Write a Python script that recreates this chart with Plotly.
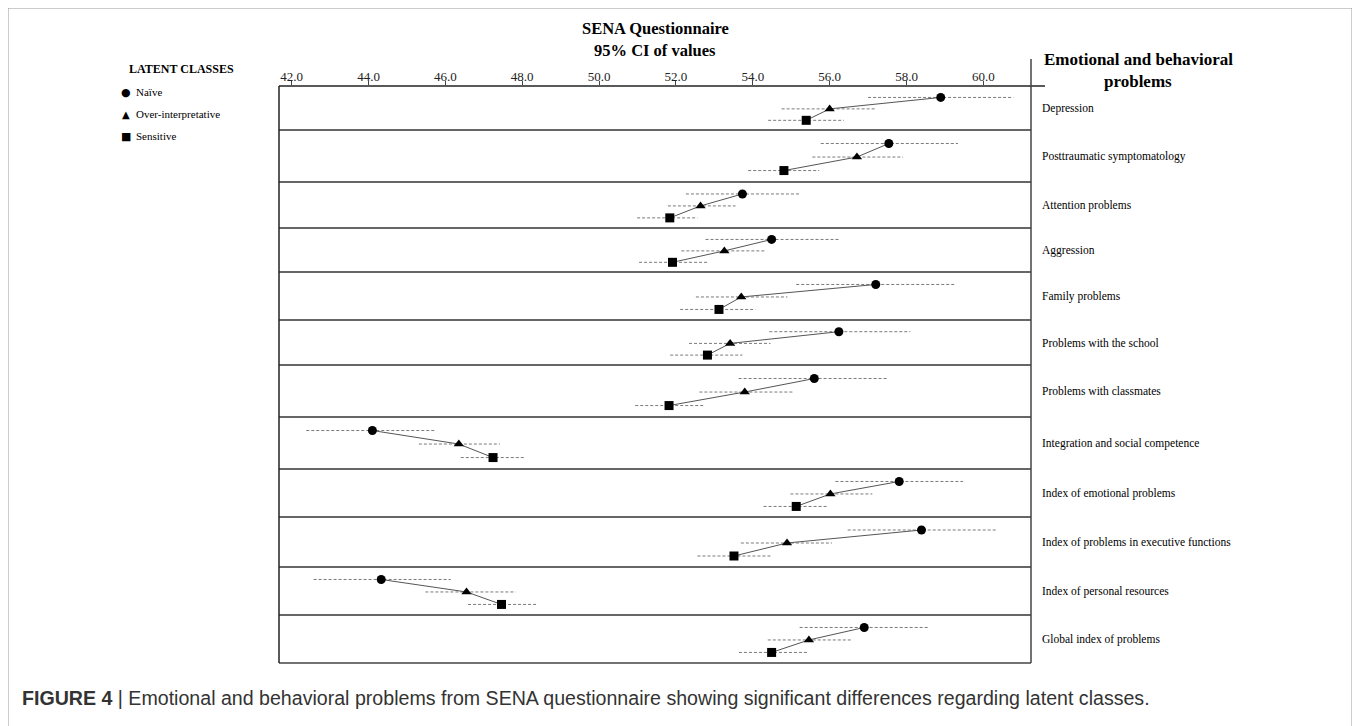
import plotly.graph_objects as go

# ---------------- data ----------------
categories = [
    "Depression", "Posttraumatic symptomatology", "Attention problems", "Aggression",
    "Family problems", "Problems with the school", "Problems with classmates",
    "Integration and social competence", "Index of emotional problems",
    "Index of problems in executive functions", "Index of personal resources",
    "Global index of problems",
]
classes = ["Naïve", "Over-interpretative", "Sensitive"]

naive_mean = [58.89, 57.54, 53.73, 54.49, 57.20, 56.24, 55.60, 44.10, 57.81, 58.39, 44.33, 56.90]
naive_lo   = [57.00, 55.77, 52.26, 52.77, 55.13, 54.43, 53.63, 42.38, 56.15, 56.47, 42.57, 55.22]
naive_hi   = [60.78, 59.34, 55.22, 56.28, 59.27, 58.10, 57.51, 45.74, 59.47, 60.37, 46.14, 58.57]

over_mean  = [56.00, 56.71, 52.64, 53.26, 53.70, 53.41, 53.79, 46.35, 56.02, 54.89, 46.55, 55.46]
over_lo    = [54.75, 55.55, 51.79, 52.14, 52.52, 52.34, 52.61, 45.31, 54.98, 53.69, 45.48, 54.39]
over_hi    = [57.21, 57.91, 53.55, 54.33, 54.90, 54.46, 55.07, 47.42, 57.11, 56.06, 47.83, 56.56]

sens_mean  = [55.39, 54.81, 51.84, 51.91, 53.12, 52.82, 51.82, 47.24, 55.13, 53.51, 47.46, 54.49]
sens_lo    = [54.40, 53.88, 50.99, 51.04, 52.11, 51.85, 50.94, 46.40, 54.28, 52.56, 46.59, 53.64]
sens_hi    = [56.37, 55.73, 52.56, 52.81, 54.07, 53.73, 52.71, 48.06, 55.96, 54.49, 48.37, 55.42]

tick_vals = [42, 44, 46, 48, 50, 52, 54, 56, 58, 60]
tick_text = ["42.0", "44.0", "46.0", "48.0", "50.0", "52.0", "54.0", "56.0", "58.0", "60.0"]

# ---------------- layout constants ----------------
W, H = 1360, 726
PAGE_OFF = 8                      # page body margin in the browser
BOX_L, BOX_R, BOX_T, BOX_B = 279, 1031, 86, 663   # screen pixels of the plot box
PW, PH = BOX_R - BOX_L, BOX_B - BOX_T
ML, MT = BOX_L - PAGE_OFF, BOX_T - PAGE_OFF
MR, MB = W - ML - PW, H - MT - PH
row_heights = [44, 52, 46, 44, 48, 45, 52, 52, 48, 50, 48, 48]   # pixel heights of rows
offsets = [0.26, 0.52, 0.78]                                      # vertical place of each class in a row
XR = [41.67, 61.24]

def px(xp):  # screen pixel x -> paper
    return (xp - BOX_L) / PW

def py(yp):  # screen pixel y -> paper
    return (BOX_B - yp) / PH

edges = [0]
for h in row_heights:
    edges.append(edges[-1] + h)
total = edges[-1]

def ypos(i, k):
    return edges[i] + offsets[k] * row_heights[i]

series = [
    (naive_mean, naive_lo, naive_hi, "circle", 9),
    (over_mean, over_lo, over_hi, "triangle-up", 9),
    (sens_mean, sens_lo, sens_hi, "square", 9),
]

fig = go.Figure()

# CI dashed lines
cx, cy = [], []
for k, (m, lo, hi, sym, sz) in enumerate(series):
    for i in range(len(categories)):
        y = ypos(i, k)
        cx += [lo[i], hi[i], None]
        cy += [y, y, None]
fig.add_trace(go.Scatter(x=cx, y=cy, mode="lines", showlegend=False, hoverinfo="skip",
                         line=dict(color="#7a7a7a", width=1, dash="3px,2px")))

# connecting lines per row
lx, ly = [], []
for i in range(len(categories)):
    for k, s in enumerate(series):
        lx.append(s[0][i])
        ly.append(ypos(i, k))
    lx.append(None)
    ly.append(None)
fig.add_trace(go.Scatter(x=lx, y=ly, mode="lines", showlegend=False, hoverinfo="skip",
                         line=dict(color="#555555", width=1)))

# markers
for k, (m, lo, hi, sym, sz) in enumerate(series):
    fig.add_trace(go.Scatter(
        x=m, y=[ypos(i, k) for i in range(len(categories))], mode="markers",
        name=classes[k], showlegend=False,
        marker=dict(symbol=sym, size=sz, color="black"),
    ))

shapes = []
line_col = "#222222"
for e in edges[1:-1]:
    shapes.append(dict(type="line", xref="paper", yref="y", x0=0, x1=1, y0=e, y1=e,
                       line=dict(color="#333333", width=1.5)))
shapes.append(dict(type="line", xref="paper", yref="paper", x0=0, x1=px(1045), y0=1, y1=1,
                   line=dict(color=line_col, width=1.5)))
shapes.append(dict(type="line", xref="paper", yref="paper", x0=0, x1=1, y0=0, y1=0,
                   line=dict(color="#444444", width=1.5)))
shapes.append(dict(type="line", xref="paper", yref="paper", x0=0, x1=0, y0=0, y1=1,
                   line=dict(color=line_col, width=1.5)))
shapes.append(dict(type="line", xref="paper", yref="paper", x0=1, x1=1, y0=0, y1=py(59),
                   line=dict(color="#444444", width=1.5)))
# outer figure frame
shapes.append(dict(type="path", xref="paper", yref="paper",
                   path=f"M {px(8)} {py(760)} L {px(8)} {py(8)} L {px(1352)} {py(8)} L {px(1352)} {py(760)}",
                   line=dict(color="#9a9a9a", width=1)))

serif = "Liberation Serif, Times New Roman, serif"

def note(x, y, text, size, xanchor="center", bold=False, family=serif, color="black", yref="paper", align="center"):
    return dict(xref="paper", yref=yref, x=x, y=y, xanchor=xanchor, yanchor="middle",
                text=f"<b>{text}</b>" if bold else text, showarrow=False, align=align,
                font=dict(family=family, size=size, color=color))

ann = []
ann.append(note(px(655), py(29), "SENA Questionnaire", 16.5, bold=True))
ann.append(note(px(655), py(50), "95% CI of values", 16.5, bold=True))
ann.append(note(px(1138), py(60), "Emotional and behavioral", 17, bold=True))
ann.append(note(px(1138), py(81), "problems", 17, bold=True))
ann.append(note(px(127), py(69), "LATENT CLASSES", 12, xanchor="left", bold=True))
leg_sym = ["●", "▲", "■"]
leg_size = [11, 10, 11]
for k, c in enumerate(classes):
    ann.append(note(px(126), py(92 + 22 * k), leg_sym[k], leg_size[k], family="DejaVu Sans"))
    ann.append(note(px(134), py(92 + 22 * k), c, 11, xanchor="left"))
for i, c in enumerate(categories):
    ann.append(note(px(1040), (edges[i] + edges[i + 1]) / 2, c, 11.5, xanchor="left", yref="y"))
ann.append(note(px(20), py(698),
                "<b>FIGURE 4</b> | Emotional and behavioral problems from SENA questionnaire showing significant differences regarding latent classes.",
                19.6, xanchor="left", family="Liberation Sans, Arial, sans-serif", color="#333333"))

xaxis = dict(range=XR, side="top", tickvals=tick_vals, ticktext=tick_text,
             ticks="outside", ticklen=4, tickcolor="#444", showgrid=False, zeroline=False,
             showline=False, tickfont=dict(family=serif, size=13, color="#222"))

fig.update_layout(
    width=W, height=H, margin=dict(l=ML, r=MR, t=MT, b=MB),
    paper_bgcolor="white", plot_bgcolor="white",
    shapes=shapes, annotations=ann, showlegend=False,
    xaxis=xaxis,
    yaxis=dict(range=[total, 0], showgrid=False, zeroline=False, showticklabels=False,
               showline=False, ticks=""),
)
try:
    fig.update_xaxes(ticklabelstandoff=-5)
except Exception:
    pass

fig.write_html("out.html")
